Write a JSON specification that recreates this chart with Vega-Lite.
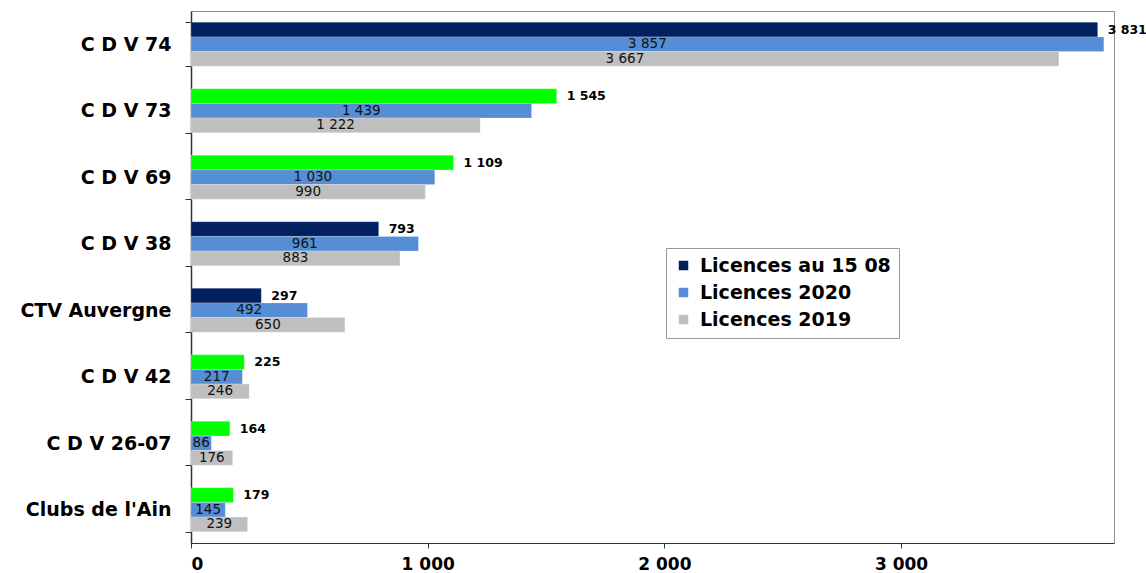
{
  "$schema": "https://vega.github.io/schema/vega-lite/v6.json",
  "autosize": "none",
  "padding": {"left": 191, "top": 11, "right": 32, "bottom": 30},
  "width": 923,
  "height": 532,
  "background": "white",
  "config": {
    "font": "DejaVu Sans",
    "view": {"stroke": "#8c8c8c", "strokeWidth": 1},
    "locale": {"number": {"decimal": ",", "thousands": " ", "grouping": [3], "currency": ["", " €"]}}
  },
  "data": {
    "values": [
      {"club": "C D V 74", "serie": "Licences au 15 08", "valeur": 3831, "evolution": "baisse"},
      {"club": "C D V 74", "serie": "Licences 2020", "valeur": 3857, "evolution": ""},
      {"club": "C D V 74", "serie": "Licences 2019", "valeur": 3667, "evolution": ""},
      {"club": "C D V 73", "serie": "Licences au 15 08", "valeur": 1545, "evolution": "hausse"},
      {"club": "C D V 73", "serie": "Licences 2020", "valeur": 1439, "evolution": ""},
      {"club": "C D V 73", "serie": "Licences 2019", "valeur": 1222, "evolution": ""},
      {"club": "C D V 69", "serie": "Licences au 15 08", "valeur": 1109, "evolution": "hausse"},
      {"club": "C D V 69", "serie": "Licences 2020", "valeur": 1030, "evolution": ""},
      {"club": "C D V 69", "serie": "Licences 2019", "valeur": 990, "evolution": ""},
      {"club": "C D V 38", "serie": "Licences au 15 08", "valeur": 793, "evolution": "baisse"},
      {"club": "C D V 38", "serie": "Licences 2020", "valeur": 961, "evolution": ""},
      {"club": "C D V 38", "serie": "Licences 2019", "valeur": 883, "evolution": ""},
      {"club": "CTV Auvergne", "serie": "Licences au 15 08", "valeur": 297, "evolution": "baisse"},
      {"club": "CTV Auvergne", "serie": "Licences 2020", "valeur": 492, "evolution": ""},
      {"club": "CTV Auvergne", "serie": "Licences 2019", "valeur": 650, "evolution": ""},
      {"club": "C D V 42", "serie": "Licences au 15 08", "valeur": 225, "evolution": "hausse"},
      {"club": "C D V 42", "serie": "Licences 2020", "valeur": 217, "evolution": ""},
      {"club": "C D V 42", "serie": "Licences 2019", "valeur": 246, "evolution": ""},
      {"club": "C D V 26-07", "serie": "Licences au 15 08", "valeur": 164, "evolution": "hausse"},
      {"club": "C D V 26-07", "serie": "Licences 2020", "valeur": 86, "evolution": ""},
      {"club": "C D V 26-07", "serie": "Licences 2019", "valeur": 176, "evolution": ""},
      {"club": "Clubs de l'Ain", "serie": "Licences au 15 08", "valeur": 179, "evolution": "hausse"},
      {"club": "Clubs de l'Ain", "serie": "Licences 2020", "valeur": 145, "evolution": ""},
      {"club": "Clubs de l'Ain", "serie": "Licences 2019", "valeur": 239, "evolution": ""}
    ]
  },
  "encoding": {
    "y": {
      "field": "club", "type": "nominal", "sort": null,
      "scale": {"paddingInner": 0.34, "paddingOuter": 0.17},
      "axis": {
        "title": null, "labelFontSize": 19, "labelFontWeight": "bold", "labelColor": "#000",
        "labelPadding": 14, "tickBand": "extent", "tickSize": 6, "tickColor": "#333",
        "domainColor": "#333", "domainWidth": 1.5, "labelLimit": 250
      }
    },
    "yOffset": {
      "field": "serie", "type": "nominal",
      "scale": {"domain": ["Licences au 15 08", "Licences 2020", "Licences 2019"], "paddingInner": 0, "paddingOuter": 0}
    }
  },
  "layer": [
    {
      "mark": {"type": "bar", "stroke": "#ffffff", "strokeOpacity": 0.35, "strokeWidth": 0.6},
      "encoding": {
        "x": {
          "field": "valeur", "type": "quantitative",
          "scale": {"domain": [0, 3900], "nice": false},
          "axis": {
            "title": null, "values": [0, 1000, 2000, 3000], "format": ",d", "grid": false,
            "labelFontSize": 17, "labelFontWeight": "bold", "labelColor": "#000",
            "tickSize": 5, "tickColor": "#333", "domainColor": "#333", "labelPadding": 8
          }
        },
        "color": {
          "condition": {"test": "datum.evolution === 'hausse'", "value": "#00ff00"},
          "field": "serie", "type": "nominal",
          "scale": {"domain": ["Licences au 15 08", "Licences 2020", "Licences 2019"], "range": ["#002060", "#558ed5", "#bfbfbf"]},
          "legend": {
            "title": null, "orient": "none", "legendX": 475, "legendY": 237,
            "padding": 8, "strokeColor": "#999", "fillColor": "#fff",
            "symbolType": "square", "symbolSize": 90, "symbolStrokeWidth": 0,
            "labelFontSize": 19, "labelFontWeight": "bold", "labelColor": "#000",
            "rowPadding": 7, "labelOffset": 7, "labelLimit": 300
          }
        }
      }
    },
    {
      "transform": [{"filter": "datum.serie === 'Licences au 15 08'"}],
      "mark": {"type": "text", "align": "left", "baseline": "middle", "dx": 10, "fontSize": 12.5, "fontWeight": "bold", "color": "#000"},
      "encoding": {
        "x": {"field": "valeur", "type": "quantitative", "scale": {"domain": [0, 3900], "nice": false}, "axis": null},
        "text": {"field": "valeur", "type": "quantitative", "format": ",d"}
      }
    },
    {
      "transform": [{"filter": "datum.serie !== 'Licences au 15 08'"}],
      "mark": {"type": "text", "align": "center", "baseline": "middle", "fontSize": 13.5, "color": "#111"},
      "encoding": {
        "x": {"field": "valeur", "type": "quantitative", "scale": {"domain": [0, 7800], "nice": false}, "axis": null},
        "text": {"field": "valeur", "type": "quantitative", "format": ",d"}
      }
    }
  ],
  "resolve": {"scale": {"x": "independent"}, "axis": {"x": "independent"}}
}
